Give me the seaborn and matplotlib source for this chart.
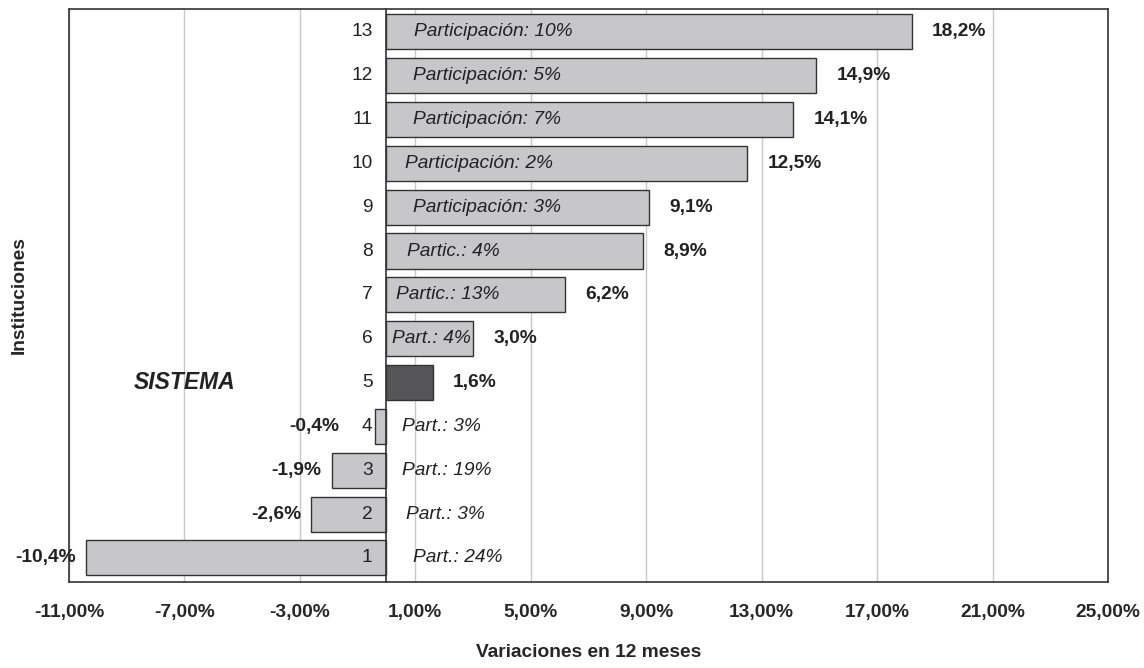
import matplotlib
matplotlib.use("Agg")
import matplotlib.pyplot as plt
import numpy as np
import pandas as pd
import seaborn as sns

# datos del grafico
instituciones = ["13", "12", "11", "10", "9", "8", "7", "6", "5", "4", "3", "2", "1"]
variacion = [18.2, 14.9, 14.1, 12.5, 9.1, 8.9, 6.2, 3.0, 1.6, -0.4, -1.9, -2.6, -10.4]
participacion = ["Participación: 10%", "Participación: 5%", "Participación: 7%",
                 "Participación: 2%", "Participación: 3%", "Partic.: 4%", "Partic.: 13%",
                 "Part.: 4%", "", "Part.: 3%", "Part.: 19%", "Part.: 3%", "Part.: 24%"]
sistema = "5"
x_ticks = [-11, -7, -3, 1, 5, 9, 13, 17, 21, 25]

# separacion (en puntos) de los textos de participacion respecto del eje cero
sep_part = [20, 19, 19, 13, 19, 15, 7, 4, 0, 11, 11, 14, 19]

sns.set_style("white")
plt.rcParams["font.family"] = ["Liberation Sans", "DejaVu Sans"]

def pct(v, dec):
    return f"{v:.{dec}f}".replace(".", ",") + "%"

df = pd.DataFrame({"inst": instituciones, "var": variacion, "part": participacion})
colores = {i: ("#555659" if i == sistema else "#c6c7cb") for i in instituciones}
borde = "#333333"
fs = 13.8

fig = plt.figure(figsize=(11.44, 6.68), dpi=100)
ax = fig.add_axes([0.0603, 0.1287, 0.9082, 0.8578])

sns.barplot(data=df, x="var", y="inst", hue="inst", palette=colores, order=instituciones,
            orient="h", width=0.8, edgecolor=borde, linewidth=1, errorbar=None,
            legend=False, ax=ax, zorder=3)

ax.set_xlim(x_ticks[0], x_ticks[-1])
ax.set_ylim(len(instituciones) - 0.45, -0.52)
ax.set_xticks(x_ticks, labels=[pct(t, 2) for t in x_ticks], fontweight="bold", fontsize=fs)
ax.xaxis.grid(True, color="#c8c8c8", linewidth=1)
ax.yaxis.grid(False)
ax.set_axisbelow(True)

# marco y eje en cero
for s in ax.spines.values():
    s.set_color(borde)
    s.set_linewidth(1.2)
ax.spines["left"].set_position(("data", 0))
ax.spines["left"].set_zorder(5)
ax.plot([0, 0], [0, 1], transform=ax.transAxes, color=borde, lw=1.2, clip_on=False)

ax.tick_params(axis="x", length=6, width=1, color=borde, direction="out", pad=10)
ax.set_yticks(range(len(instituciones)), labels=[])
ax.tick_params(axis="y", which="major", length=0)
ax.set_yticks(np.arange(-0.5, len(instituciones), 1), minor=True)
ax.tick_params(axis="y", which="minor", length=4, width=1, color=borde, direction="out")

ax.set_xlabel("Variaciones en 12 meses", fontweight="bold", fontsize=fs)
ax.xaxis.set_label_coords(0.5, -0.108)
ax.set_ylabel("Instituciones", fontweight="bold", fontsize=fs)
ax.yaxis.set_label_coords(-0.04, 0.5)

for i, (inst, v, p, sp) in enumerate(zip(instituciones, variacion, participacion, sep_part)):
    # numero de institucion, junto al eje cero
    ax.annotate(inst, (0, i), xytext=(-10, 0), textcoords="offset points",
                ha="right", va="center", fontsize=fs, color="#222222", zorder=6)
    if v >= 0:
        ax.text(v + 0.7, i, pct(v, 1), ha="left", va="center", fontweight="bold",
                fontsize=fs, color="#222222")
    else:
        ax.text(min(v, -1.3) - 0.35, i, pct(v, 1), ha="right", va="center",
                fontweight="bold", fontsize=fs, color="#222222")
    if p:
        ax.annotate(p, (0, i), xytext=(sp, 0), textcoords="offset points",
                    ha="left", va="center", style="italic", fontsize=fs,
                    color="#222222", zorder=6)

ax.text(-7, instituciones.index(sistema), "SISTEMA", ha="center", va="center",
        fontweight="bold", style="italic", fontsize=16.5, color="#222222")

fig.savefig("out.png", dpi=100)
